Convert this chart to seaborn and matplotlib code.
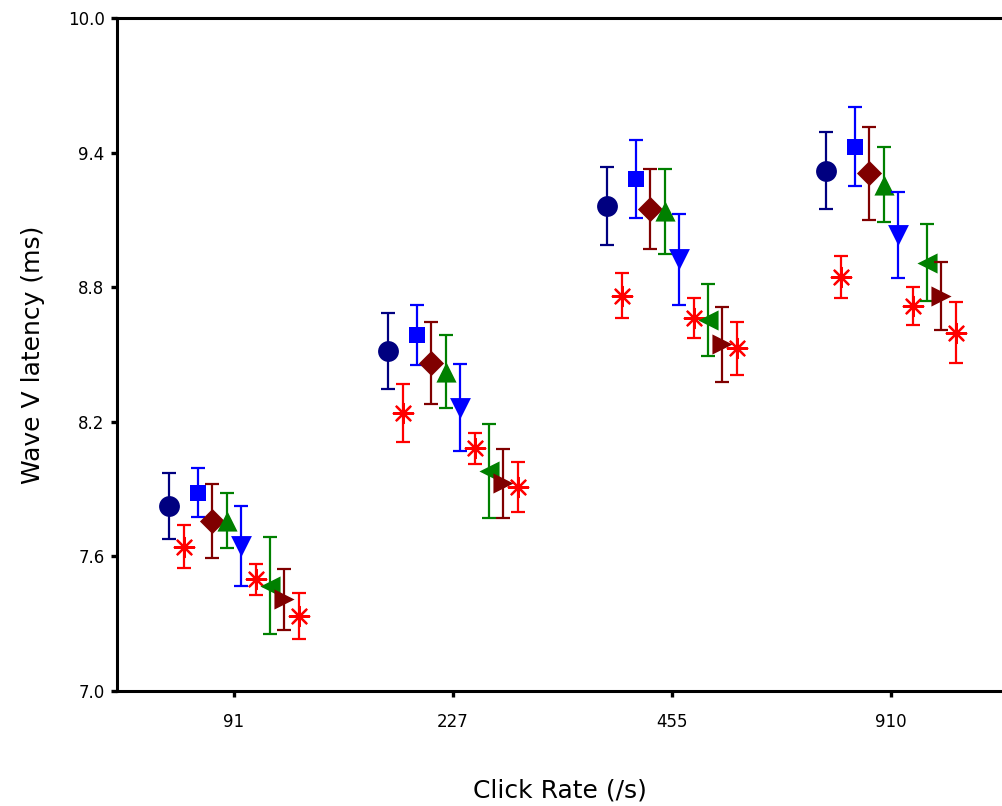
import numpy as np
import pandas as pd
import matplotlib
matplotlib.use("Agg")
import matplotlib.pyplot as plt
import seaborn as sns

# Click rates (categories on the x axis)
rates = ["91", "227", "455", "910"]

# Mean wave V latency (ms) per condition, one value per click rate
lat_s0 = [7.825, 8.515, 9.162, 9.319]
lat_s1 = [7.643, 8.240, 8.763, 8.845]
lat_s2 = [7.884, 8.587, 9.282, 9.426]
lat_s3 = [7.758, 8.462, 9.149, 9.307]
lat_s4 = [7.760, 8.424, 9.138, 9.257]
lat_s5 = [7.646, 8.262, 8.924, 9.032]
lat_s6 = [7.498, 8.081, 8.664, 8.717]
lat_s7 = [7.469, 7.980, 8.654, 8.909]
lat_s8 = [7.408, 7.925, 8.546, 8.760]
lat_s9 = [7.335, 7.910, 8.527, 8.597]

# Error bar half-widths (ms)
err_s0 = [0.148, 0.169, 0.174, 0.172]
err_s1 = [0.095, 0.128, 0.099, 0.094]
err_s2 = [0.110, 0.133, 0.173, 0.177]
err_s3 = [0.163, 0.183, 0.178, 0.207]
err_s4 = [0.124, 0.162, 0.189, 0.168]
err_s5 = [0.178, 0.194, 0.203, 0.192]
err_s6 = [0.068, 0.068, 0.090, 0.084]
err_s7 = [0.216, 0.211, 0.159, 0.172]
err_s8 = [0.138, 0.153, 0.167, 0.152]
err_s9 = [0.104, 0.113, 0.120, 0.136]

y_ticks = [7.0, 7.6, 8.2, 8.8, 9.4, 10.0]

means = [lat_s0, lat_s1, lat_s2, lat_s3, lat_s4, lat_s5, lat_s6, lat_s7, lat_s8, lat_s9]
errs = [err_s0, err_s1, err_s2, err_s3, err_s4, err_s5, err_s6, err_s7, err_s8, err_s9]

# Marker style, colour and size (points) for each condition
NAVY, BLUE, DRED, GREEN, RED = "#000080", "#0000ff", "#800000", "#008000", "#ff0000"
styles = [
    ("o", NAVY, 15.0),
    ((8, 2, 0), RED, 14.0),
    ("s", BLUE, 11.8),
    ("D", DRED, 12.8),
    ("^", GREEN, 14.5),
    ("v", BLUE, 15.0),
    ((8, 2, 0), RED, 14.0),
    ("<", GREEN, 14.5),
    (">", DRED, 14.5),
    ((8, 2, 0), RED, 14.0),
]

rows = []
for i, (m, e) in enumerate(zip(means, errs)):
    for j, r in enumerate(rates):
        rows.append({"cond": i, "rate": r, "pos": j, "latency": m[j], "err": e[j]})
df = pd.DataFrame(rows)

n = len(means)
step = 0.0658
df["x"] = df["pos"] + (df["cond"] - (n - 1) / 2) * step

sns.set_theme(style="ticks")
plt.rcParams["font.family"] = ["DejaVu Sans"]
plt.rcParams["text.color"] = "black"
plt.rcParams["axes.labelcolor"] = "black"

fig = plt.figure(figsize=(10.02, 8.06), dpi=100)
ax = fig.add_axes([117 / 1002, (806 - 691) / 806, (1002 - 117) / 1002, 673 / 806])

for i in range(n):
    sub = df[df["cond"] == i]
    marker, color, ms = styles[i]
    ax.errorbar(sub["x"], sub["latency"], yerr=sub["err"], fmt="none",
                ecolor=color, elinewidth=1.6, capsize=5.2, capthick=1.6,
                zorder=3 + 2 * i)
    is_star = isinstance(marker, tuple)
    sns.scatterplot(data=sub, x="x", y="latency", ax=ax, marker=marker,
                    color=color, s=ms ** 2,
                    linewidth=1.6 if is_star else 0,
                    edgecolor=color, legend=False, zorder=4 + 2 * i)

ax.set_xlim(-117 / 219, (1002 - 234) / 219)
ax.set_ylim(7.0, 10.0)
ax.set_xticks(range(len(rates)))
ax.set_xticklabels(rates)
ax.set_yticks(y_ticks)
ax.set_yticklabels([f"{t:.1f}" for t in y_ticks])

for side in ["left", "bottom", "top"]:
    ax.spines[side].set_visible(True)
    ax.spines[side].set_linewidth(2.2)
    ax.spines[side].set_color("black")
ax.spines["right"].set_visible(False)

ax.tick_params(axis="both", which="major", direction="out", length=4,
               width=2.4, color="black", labelsize=12, labelcolor="black")
ax.tick_params(axis="x", pad=12)
ax.tick_params(axis="y", pad=5)

ax.set_xlabel("Click Rate (/s)", fontsize=18, labelpad=34, color="black")
ax.set_ylabel("Wave V latency (ms)", fontsize=18, labelpad=16, color="black")

fig.savefig("out.png", dpi=100)
